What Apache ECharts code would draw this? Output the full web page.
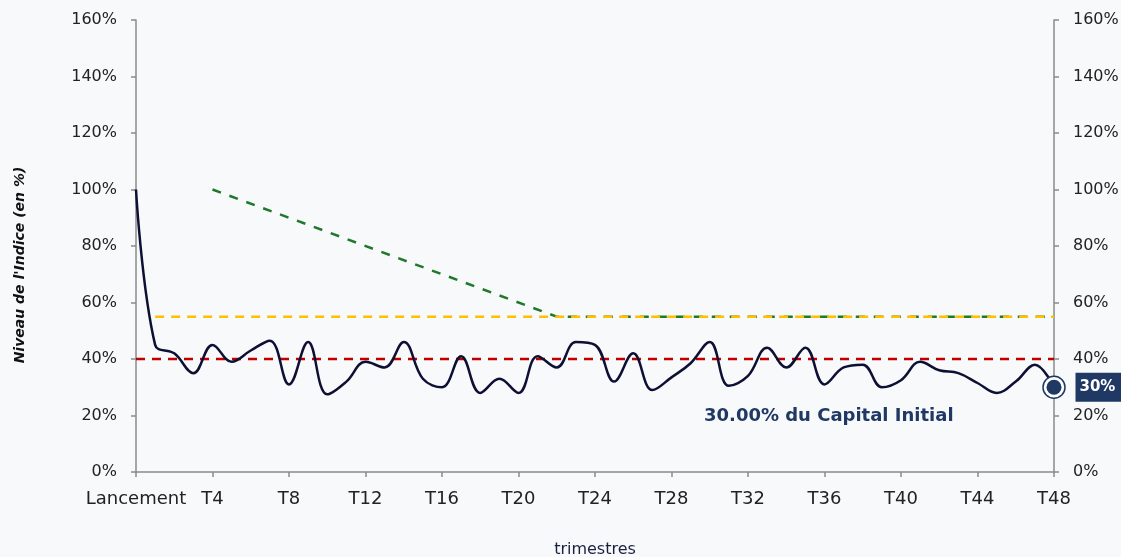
<!DOCTYPE html>
<html>
<head>
<meta charset="utf-8">
<script src="https://cdn.jsdelivr.net/npm/echarts@6/dist/echarts.min.js"></script>
<style>
  html, body { margin: 0; padding: 0; background: #f7f9fb; }
  #chart { width: 1121px; height: 557px; }
</style>
</head>
<body>
<div id="chart"></div>
<script>
// trimestres : Lancement puis T1..T48
const categories = ['Lancement']
for (let i = 1; i <= 48; i++) categories.push('T' + i)

// niveau de l'indice (en %)
const indexLevel = [
  100, 45, 42, 35, 45, 39, 43, 46.5, 31, 46,
  27.5, 32, 39, 37, 46, 33, 30, 41, 28, 33,
  28, 41, 37, 46, 45, 32, 42, 29, 33.5, 38.5,
  46, 30.5, 34, 44, 37, 44, 31, 37, 38, 30,
  32.5, 39, 36, 35, 31.5, 28, 32, 38, 30
]

// barrière de remboursement anticipé (T4 -> T22 puis plate)
const autocallPoints = { 4: 100, 22: 55, 48: 55 }
// barrière de coupon
const couponPoints = { 1: 55, 48: 55 }
// barrière de protection du capital
const capitalPoints = { 0: 40, 48: 40 }

const finalValue = 30
const finalText = '30.00% du Capital Initial'

const sparse = (pts) => categories.map((_, i) => (pts[i] !== undefined ? pts[i] : null))

const navy = '#1f3864'
const font = '"DejaVu Sans", sans-serif'

const chart = echarts.init(document.getElementById('chart'))

const axisLine = { show: true, lineStyle: { color: '#8a8a8a', width: 1.5 } }
const axisTick = { show: true, length: 5, lineStyle: { color: '#8a8a8a', width: 1.5 } }
const yLabel = { color: '#222222', fontSize: 16, fontFamily: font, formatter: '{value}%', margin: 19 }

const option = {
  backgroundColor: '#f7f9fb',
  animation: false,
  grid: { left: 136, right: 67, top: 20, bottom: 85, containLabel: false, outerBoundsMode: 'none' },
  xAxis: {
    type: 'category',
    data: categories,
    boundaryGap: false,
    name: 'trimestres',
    nameLocation: 'middle',
    nameGap: 70,
    nameTextStyle: { color: '#1a2040', fontSize: 16, fontFamily: font },
    axisLine: axisLine,
    axisTick: Object.assign({ interval: 3 }, axisTick),
    axisLabel: { interval: 3, color: '#222222', fontSize: 18, fontFamily: font, margin: 18 },
    splitLine: { show: false }
  },
  yAxis: [
    {
      type: 'value', min: 0, max: 160, interval: 20, position: 'left',
      axisLine: axisLine, axisTick: axisTick, axisLabel: yLabel,
      splitLine: { show: false }
    },
    {
      type: 'value', min: 0, max: 160, interval: 20, position: 'right',
      axisLine: axisLine, axisTick: axisTick, axisLabel: yLabel,
      splitLine: { show: false }
    }
  ],
  series: [
    {
      name: 'autocall',
      type: 'line',
      data: sparse(autocallPoints),
      connectNulls: true,
      symbol: 'none',
      lineStyle: { color: '#1e7a2a', width: 2.5, type: [9, 9] },
      z: 2
    },
    {
      name: 'capital',
      type: 'line',
      data: sparse(capitalPoints),
      connectNulls: true,
      symbol: 'none',
      lineStyle: { color: '#c00000', width: 2.5, type: [9, 7] },
      z: 3
    },
    {
      name: 'coupon',
      type: 'line',
      data: sparse(couponPoints),
      connectNulls: true,
      symbol: 'none',
      lineStyle: { color: '#ffc000', width: 2.5, type: [9, 7] },
      z: 3
    },
    {
      name: 'indice',
      type: 'line',
      data: indexLevel,
      smooth: 0.4,
      symbol: 'none',
      lineStyle: { color: '#0d1033', width: 2.5 },
      z: 4
    },
    {
      name: 'final-ring',
      type: 'scatter',
      data: [[categories.length - 1, finalValue]],
      symbolSize: 22,
      itemStyle: { color: '#ffffff', borderColor: navy, borderWidth: 1.5, opacity: 1 },
      z: 5
    },
    {
      name: 'final',
      type: 'scatter',
      data: [[categories.length - 1, finalValue]],
      symbolSize: 15,
      itemStyle: { color: navy, opacity: 1 },
      label: {
        show: true,
        position: 'right',
        distance: 14,
        formatter: finalValue + '%',
        color: '#ffffff',
        fontWeight: 'bold',
        fontSize: 15,
        fontFamily: font,
        backgroundColor: navy,
        padding: [7, 6, 7, 4]
      },
      z: 6
    }
  ],
  graphic: [
    {
      type: 'text',
      left: 704,
      top: 407,
      style: { text: finalText, fill: navy, fontSize: 18, fontWeight: 'bold', fontFamily: font }
    },
    {
      type: 'text',
      x: 20,
      y: 265,
      rotation: Math.PI / 2,
      style: {
        text: "Niveau de l'Indice (en %)",
        fill: '#111111',
        fontSize: 14,
        fontWeight: 'bold',
        fontStyle: 'italic',
        fontFamily: font,
        align: 'center',
        verticalAlign: 'middle'
      }
    }
  ]
}

chart.setOption(option)
</script>
</body>
</html>
